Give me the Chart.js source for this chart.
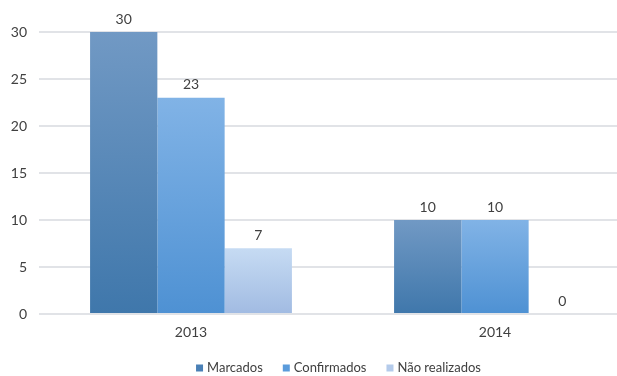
<!DOCTYPE html>
<html>
<head>
<meta charset="utf-8">
<script src="https://cdn.jsdelivr.net/npm/chart.js@4.4.1/dist/chart.umd.min.js"></script>
<style>
html,body{margin:0;padding:0;background:#fff;overflow:hidden;width:617px;height:376px;}
#wrap{position:relative;width:676px;height:376px;}
</style>
</head>
<body>
<div id="wrap"><canvas id="c" width="676" height="376"></canvas></div>
<script>
const categories = ['2013', '2014'];
const seriesNames = ['Marcados', 'Confirmados', 'Não realizados'];
const marcados = [30, 10];
const confirmados = [23, 10];
const naoRealizados = [7, 0];
const yTicks = [0, 5, 10, 15, 20, 25, 30];

const FONT = 'Lato, "Open Sans", sans-serif';
const grads = [
  ['#7199c4', '#3f77ab', '#4a80b6'],
  ['#81b3e6', '#4e91d3', '#5a9bdb'],
  ['#c6dbf3', '#a1bbe2', '#b4cbeb']
];

function gradFor(i) {
  return function(ctx) {
    const chart = ctx.chart;
    const y = chart.scales && chart.scales.y;
    if (!y || ctx.raw === undefined || y.getPixelForValue === undefined) return grads[i][1];
    const top = y.getPixelForValue(ctx.raw);
    const bot = y.getPixelForValue(0);
    if (!isFinite(top) || !isFinite(bot) || Math.abs(bot - top) < 1) return grads[i][0];
    const g = chart.ctx.createLinearGradient(0, top, 0, bot);
    g.addColorStop(0, grads[i][0]);
    g.addColorStop(1, grads[i][1]);
    return g;
  };
}

const dataLabels = {
  id: 'dataLabels',
  afterDatasetsDraw(chart) {
    const ctx = chart.ctx;
    ctx.save();
    ctx.font = '14px ' + FONT;
    ctx.fillStyle = '#404040';
    ctx.textAlign = 'center';
    ctx.textBaseline = 'middle';
    chart.data.datasets.forEach((ds, di) => {
      const meta = chart.getDatasetMeta(di);
      meta.data.forEach((bar, i) => {
        ctx.fillText(String(ds.data[i]), bar.x, bar.y - 13);
      });
    });
    ctx.restore();
  }
};

const customLegend = {
  id: 'customLegend',
  afterDraw(chart) {
    const ctx = chart.ctx;
    ctx.save();
    ctx.font = '13px ' + FONT;
    ctx.textBaseline = 'middle';
    const box = 7, gapBox = 4, gapItem = 20;
    const widths = seriesNames.map(n => box + gapBox + ctx.measureText(n).width);
    const total = widths.reduce((a, b) => a + b, 0) + gapItem * (widths.length - 1);
    let x = 338.5 - total / 2;
    const y = 368;
    seriesNames.forEach((n, i) => {
      ctx.fillStyle = grads[i][2];
      ctx.fillRect(x, y - box / 2, box, box);
      ctx.fillStyle = '#404040';
      ctx.fillText(n, x + box + gapBox, y);
      x += widths[i] + gapItem;
    });
    ctx.restore();
  }
};

new Chart(document.getElementById('c'), {
  type: 'bar',
  data: {
    labels: categories,
    datasets: [
      { label: seriesNames[0], data: marcados, backgroundColor: gradFor(0) },
      { label: seriesNames[1], data: confirmados, backgroundColor: gradFor(1) },
      { label: seriesNames[2], data: naoRealizados, backgroundColor: gradFor(2) }
    ]
  },
  options: {
    responsive: false,
    animation: false,
    events: [],
    layout: { padding: { top: 32, right: 29, bottom: 0, left: 0 } },
    datasets: { bar: { categoryPercentage: 0.664, barPercentage: 1.0, borderWidth: 0 } },
    plugins: { legend: { display: false }, tooltip: { enabled: false } },
    scales: {
      x: {
        grid: { display: false, drawTicks: false },
        border: { display: false },
        ticks: { padding: 10, color: '#404040', font: { family: FONT, size: 14 } },
        afterFit(s) { s.height = 62; }
      },
      y: {
        min: 0, max: 30,
        afterBuildTicks(s) { s.ticks = yTicks.map(v => ({ value: v })); },
        grid: { color: '#e1e3e7', lineWidth: 2, drawTicks: false },
        border: { display: false },
        ticks: { padding: 12, color: '#404040', font: { family: FONT, size: 14 } },
        afterFit(s) { s.width = 39; }
      }
    }
  },
  plugins: [dataLabels, customLegend]
});
</script>
</body>
</html>
